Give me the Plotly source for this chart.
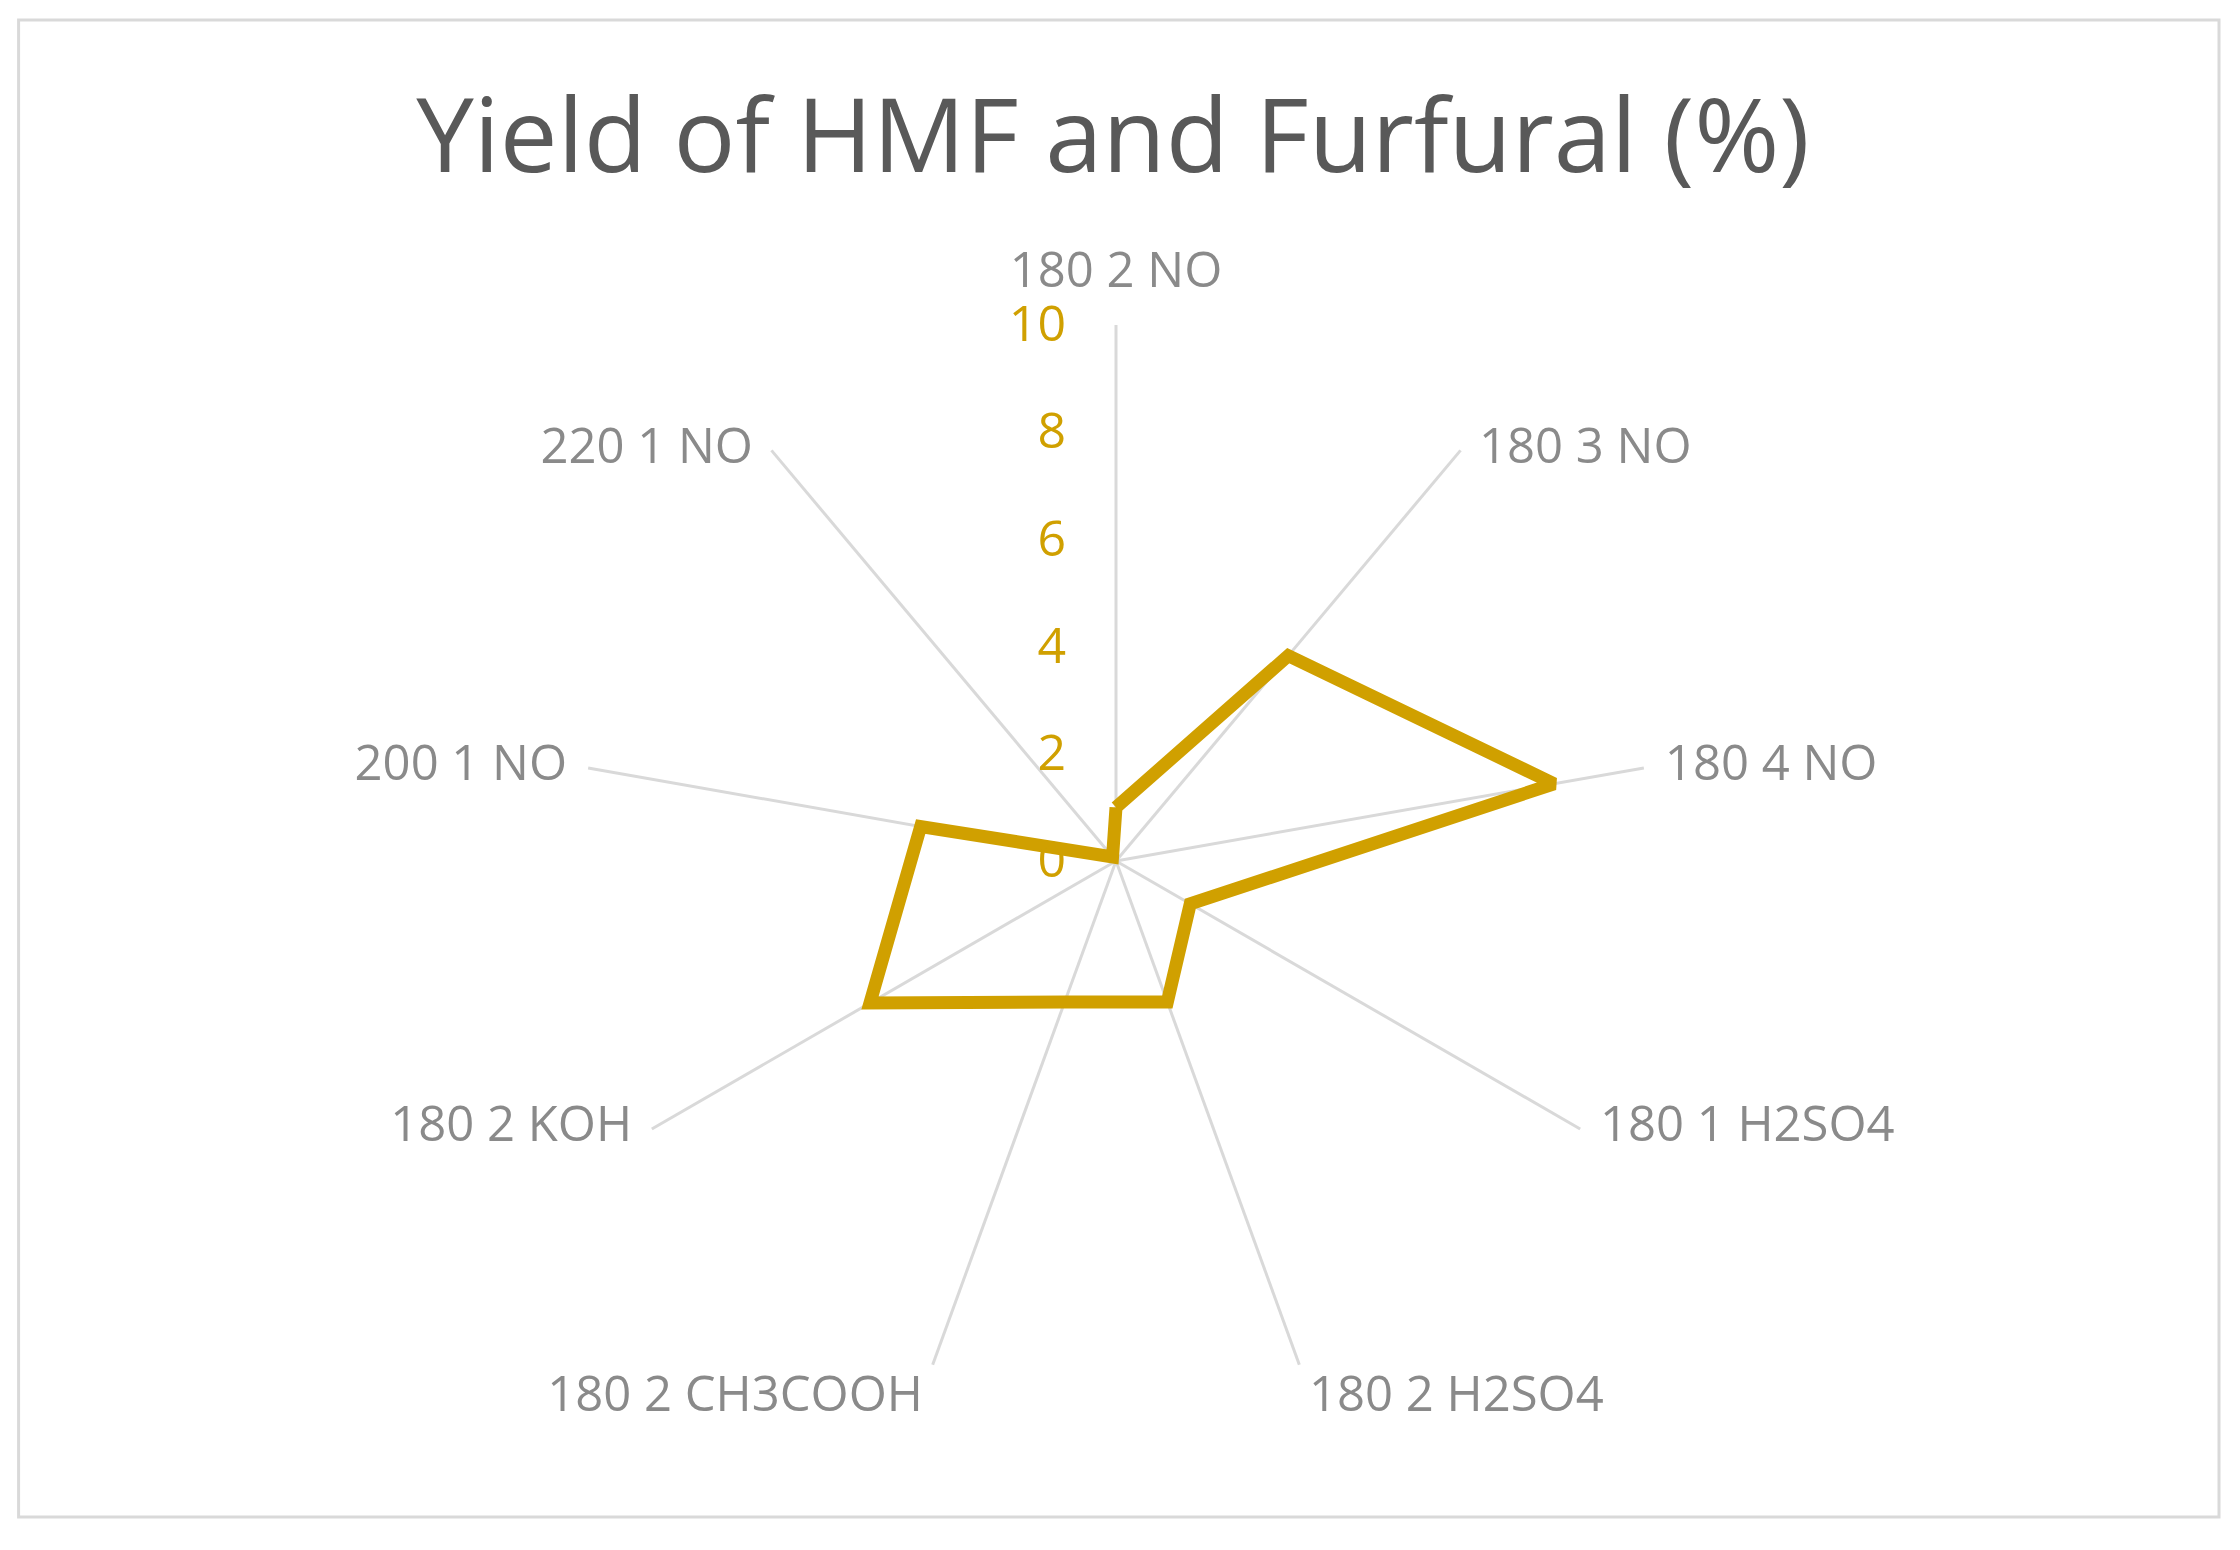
import plotly.graph_objects as go

categories = ['180 2 NO', '180 3 NO', '180 4 NO', '180 1 H2SO4', '180 2 H2SO4',
              '180 2 CH3COOH', '180 2 KOH', '200 1 NO', '220 1 NO']
yield_pct = [1.0, 5.0, 8.3, 1.6, 2.8, 2.8, 5.3, 3.7, 0.1]
radial_ticks = [0, 2, 4, 6, 8, 10]

gold = '#D0A000'
grey_txt = '#8A8A8A'
grid = '#D9D9D9'

# category labels drawn as text at the end of each spoke (Excel-like placement)
label_pos = ['top center', 'middle right', 'middle right', 'middle right', 'bottom right',
             'bottom left', 'middle left', 'middle left', 'middle left']
label_gap = [40, 28, 32, 30, 14, 14, 30, 32, 28]

# page body has an 8px margin, so positions are shifted back by 8px
W, H = 2240, 1550
off = 8

fig = go.Figure()
fig.add_trace(go.Scatterpolar(
    r=yield_pct + [yield_pct[0]],
    theta=categories + [categories[0]],
    mode='lines',
    line=dict(color=gold, width=13),
    showlegend=False,
    hoverinfo='skip'
))
fig.add_trace(go.Scatterpolar(
    r=[10] * len(categories),
    theta=categories,
    mode='markers+text',
    text=categories,
    textposition=label_pos,
    textfont=dict(size=49, color=grey_txt, family='Open Sans'),
    marker=dict(size=label_gap, opacity=0),
    cliponaxis=False,
    showlegend=False,
    hoverinfo='skip'
))

cx, cy, rad = 1116 - off, 861 - off, 536
fig.update_layout(
    width=W, height=H,
    paper_bgcolor='white',
    margin=dict(l=0, r=0, t=0, b=0),
    font=dict(family='Open Sans', color=grey_txt),
    title=dict(text='Yield of HMF and Furfural (%)', x=(1113 - off) / W, xanchor='center',
               y=1 - (136 - off) / H, yanchor='middle',
               font=dict(size=103, color='#595959', family='Open Sans')),
    polar=dict(
        domain=dict(x=[(cx - rad) / W, (cx + rad) / W],
                    y=[(H - cy - rad) / H, (H - cy + rad) / H]),
        bgcolor='white',
        angularaxis=dict(
            type='category',
            categoryarray=categories,
            rotation=90, direction='clockwise',
            showline=False, showgrid=True,
            gridcolor=grid, gridwidth=3,
            ticks='', showticklabels=False,
        ),
        radialaxis=dict(
            range=[0, 10], tickvals=radial_ticks,
            angle=90, side='counterclockwise',
            showgrid=False, showline=False,
            ticks='outside', ticklen=32, tickcolor='rgba(0,0,0,0)',
            tickfont=dict(size=50, color=gold),
            tickangle=90,
        ),
    ),
    shapes=[dict(type='rect', xref='paper', yref='paper',
                 x0=(18.6 - off) / W, x1=(2219 - off) / W,
                 y0=1 - (1517 - off) / H, y1=1 - (20 - off) / H,
                 line=dict(color=grid, width=3))],
)

fig.write_html('out.html')
